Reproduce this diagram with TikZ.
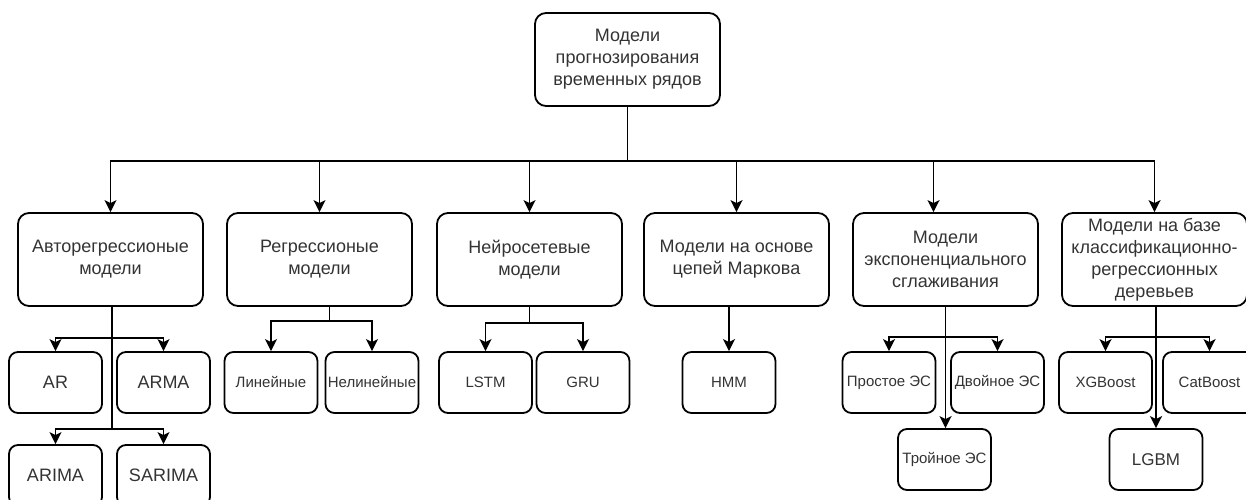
\documentclass[tikz,border=0pt]{standalone}
\usepackage{fontspec}
\setmainfont{Liberation Sans}
\usetikzlibrary{calc,arrows.meta}
\definecolor{boxtext}{RGB}{51,51,51}

\begin{document}
\begin{tikzpicture}[x=1pt, y=-1pt,
    box/.style={draw, line width=1.8pt, rounded corners=11pt, minimum width=185pt, minimum height=93pt, align=center, text=boxtext, inner sep=1pt, font=\fontsize{18}{22}\selectfont},
    leaf/.style={draw, line width=1.8pt, rounded corners=9pt, minimum width=93pt, minimum height=61pt, align=center, text=boxtext, inner sep=0.5pt, font=\fontsize{15}{18}\selectfont},
    big/.style={font=\fontsize{18}{22}\selectfont},
    conn/.style={line width=1.8pt, -{Stealth[length=12pt, width=12pt, inset=3pt]}}]
    \useasboundingbox (0,0) rectangle (1246,500);

    \node[box] (root) at (627.5,59.5) {Модели\\прогнозирования\\временных рядов};

    \node[box] (ar) at (110.5,259.5) {Авторегрессионые\\модели};
    \node[box] (reg) at (319.5,259.5) {Регрессионые\\модели};
    \node[box] (nn) at (529.5,259.5) {Нейросетевые\\модели};
    \node[box] (mk) at (736.5,259.5) {Модели на основе\\цепей Маркова};
    \node[box] (es) at (945.5,259.5) {Модели\\экспоненциального\\сглаживания};
    \node[box] (tr) at (1154.5,259.5) {Модели на базе\\классификационно-\\регрессионных\\деревьев};

    \node[leaf, big] (AR) at (55.5,382.5) {AR};
    \node[leaf, big] (ARMA) at (163.5,382.5) {ARMA};
    \node[leaf, big] (ARIMA) at (55.5,475.5) {ARIMA};
    \node[leaf, big] (SARIMA) at (163.5,475.5) {SARIMA};
    \node[leaf] (lin) at (271,382.5) {Линейные};
    \node[leaf] (nonlin) at (372,382.5) {Нелинейные};
    \node[leaf] (LSTM) at (485.5,382.5) {LSTM};
    \node[leaf] (GRU) at (583,382.5) {GRU};
    \node[leaf] (HMM) at (729,382.5) {HMM};
    \node[leaf] (es1) at (889,382.5) {Простое ЭС};
    \node[leaf] (es2) at (997.5,382.5) {Двойное ЭС};
    \node[leaf] (es3) at (944.5,459.5) {Тройное ЭС};
    \node[leaf] (XGB) at (1105.5,382.5) {XGBoost};
    \node[leaf] (Cat) at (1209.5,382.5) {CatBoost};
    \node[leaf, font=\fontsize{17}{20}\selectfont] (LGBM) at (1156,459.5) {LGBM};

    \foreach \n in {ar,reg,nn,mk,tr}
        \draw[conn] (root.south) -- ++(0,54) -| (\n.north);
    \draw[conn] (root.south) -- ++(0,54) -| ([xshift=-12pt]es.north);

    \foreach \n in {AR,ARMA}
        \draw[conn] ([xshift=1.5pt]ar.south) -- ++(0,31) -| (\n.north);
    \foreach \n in {ARIMA,SARIMA}
        \draw[conn] ([xshift=1.5pt]ar.south) -- ++(0,122) -| (\n.north);
    \foreach \n in {lin,nonlin}
        \draw[conn] ([xshift=10pt]reg.south) -- ++(0,14) -| (\n.north);
    \foreach \n in {LSTM,GRU}
        \draw[conn] (nn.south) -- ++(0,16) -| (\n.north);
    \draw[conn] (mk.south -| HMM.north) -- (HMM.north);
    \foreach \n in {es1,es2}
        \draw[conn] (es.south) -- ++(0,30) -| (\n.north);
    \draw[conn] (es.south) -- (es.south |- es3.north);
    \foreach \n in {XGB,Cat}
        \draw[conn] (tr.south -| LGBM.north) -- ++(0,30) -| (\n.north);
    \draw[conn] (tr.south -| LGBM.north) -- (LGBM.north);
\end{tikzpicture}
\end{document}
